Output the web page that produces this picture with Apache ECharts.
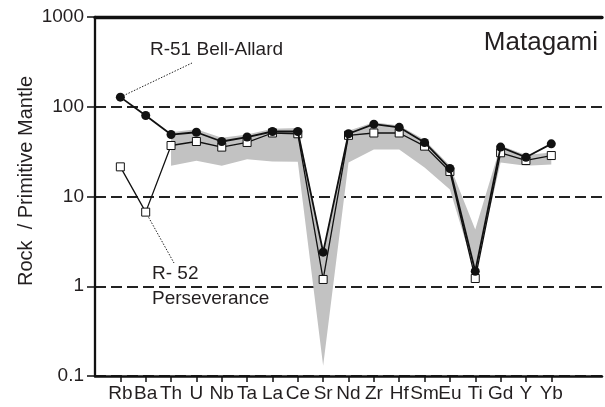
<!DOCTYPE html>
<html><head><meta charset="utf-8">
<script src="https://cdn.jsdelivr.net/npm/echarts@6/dist/echarts.min.js"></script>
<style>html,body{margin:0;padding:0;background:#fff}#c{width:605px;height:407px}</style>
</head><body><div id="c"></div>
<script>
const elements = ['Rb','Ba','Th','U','Nb','Ta','La','Ce','Sr','Nd','Zr','Hf','Sm','Eu','Ti','Gd','Y','Yb'];
const r51 = [128, 80, 49, 52, 41, 46, 53, 53, 2.4, 50, 64, 59, 40, 20.5, 1.47, 35.5, 27.4, 38.6];
const r52 = [21.4, 6.7, 37, 41, 35.5, 40, 51, 50, 1.19, 48, 51, 51, 36.4, 19, 1.22, 30.7, 25.2, 28.6];
const bandElements = ['Th','U','Nb','Ta','La','Ce','Sr','Nd','Zr','Hf','Sm','Eu','Ti','Gd','Y','Yb'];
const bandHigh = [52, 56, 45, 49, 57, 58, 2.5, 54, 67, 62, 43, 22, 4.3, 37, 29, 31];
const bandLow = [22, 25, 22, 26, 24.6, 24.4, 0.13, 24, 33.4, 33.4, 21, 12, 1.4, 24, 22, 22.8];
const yTicks = [0.1, 1, 10, 100, 1000];

const cats = [''].concat(elements).concat(['', '']);
const idx = e => cats.indexOf(e);
const FONT = 'Liberation Sans, Arial, sans-serif';
const TXT = '#231f20';

const chart = echarts.init(document.getElementById('c'));
const option = {
  animation: false,
  grid: {left: 95, right: 1, top: 17, bottom: 31, containLabel: false},
  xAxis: [{
    type: 'category', data: cats, boundaryGap: false, position: 'bottom',
    axisLine: {lineStyle: {color: '#111', width: 2.5}},
    axisTick: {length: 6, inside: false, lineStyle: {color: '#111', width: 1.5},
      interval: (i) => i >= 1 && i <= elements.length},
    axisLabel: {interval: 0, color: TXT, fontFamily: FONT, fontSize: 19, margin: 8},
    splitLine: {show: false}
  }, {
    type: 'category', data: cats, boundaryGap: false, position: 'top',
    axisLine: {lineStyle: {color: '#111', width: 3.3}},
    axisTick: {show: false}, axisLabel: {show: false}
  }],
  yAxis: {
    type: 'log', logBase: 10, min: yTicks[0], max: yTicks[yTicks.length - 1],
    axisLine: {show: true, lineStyle: {color: '#111', width: 2.3}},
    axisTick: {show: true, length: 8, lineStyle: {color: '#111', width: 1.5}},
    axisLabel: {color: TXT, fontFamily: FONT, fontSize: 19, margin: 11,
      formatter: v => String(v)},
    splitLine: {show: true, lineStyle: {color: '#222', width: 2, type: [11, 5]}}
  },
  series: [{
    type: 'custom', z: 1, silent: true,
    data: [[idx(bandElements[0]), bandHigh[0]]],
    renderItem: (params, api) => {
      const pts = [];
      for (let i = 0; i < bandElements.length; i++) pts.push(api.coord([idx(bandElements[i]), bandHigh[i]]));
      for (let i = bandElements.length - 1; i >= 0; i--) pts.push(api.coord([idx(bandElements[i]), bandLow[i]]));
      return {type: 'polygon', shape: {points: pts}, style: {fill: '#c2c2c2', stroke: null}};
    }
  }, {
    name: 'R-52 Perseverance', type: 'line', z: 3,
    data: r52.map((v, i) => [idx(elements[i]), v]),
    symbol: 'rect', symbolSize: 8,
    itemStyle: {color: '#fff', borderColor: '#111', borderWidth: 1},
    lineStyle: {color: '#111', width: 1.3}
  }, {
    name: 'R-51 Bell-Allard', type: 'line', z: 4,
    data: r51.map((v, i) => [idx(elements[i]), v]),
    symbol: 'circle', symbolSize: 9,
    itemStyle: {color: '#111', borderColor: '#111', borderWidth: 0},
    lineStyle: {color: '#111', width: 1.8}
  }]
};
chart.setOption(option);

const pRb = chart.convertToPixel({gridIndex: 0}, [idx('Rb'), r51[0]]);
const pBa = chart.convertToPixel({gridIndex: 0}, [idx('Ba'), r52[1]]);
chart.setOption({
  graphic: [
    {type: 'text', x: 598, y: 42.5, style: {text: 'Matagami', font: '26px ' + FONT, fill: TXT, align: 'right', verticalAlign: 'middle'}},
    {type: 'text', x: 150, y: 49.5, style: {text: 'R-51 Bell-Allard', font: '19px ' + FONT, fill: TXT, align: 'left', verticalAlign: 'middle'}},
    {type: 'text', x: 279, y: 149.5, style: {text: 'n=2', font: '19px ' + FONT, fill: TXT, align: 'center', verticalAlign: 'middle'}},
    {type: 'text', x: 152, y: 274, style: {text: 'R- 52', font: '19px ' + FONT, fill: TXT, align: 'left', verticalAlign: 'middle'}},
    {type: 'text', x: 152, y: 299, style: {text: 'Perseverance', font: '19px ' + FONT, fill: TXT, align: 'left', verticalAlign: 'middle'}},
    {type: 'text', x: 26, y: 181, rotation: Math.PI / 2, style: {text: 'Rock  / Primitive Mantle', font: '20px ' + FONT, fill: TXT, align: 'center', verticalAlign: 'middle'}},
    {type: 'line', z: 2, shape: {x1: pRb[0], y1: pRb[1], x2: 192, y2: 63}, style: {stroke: '#222', lineWidth: 1, lineDash: [1.5, 1.5]}},
    {type: 'line', z: 2, shape: {x1: pBa[0], y1: pBa[1], x2: 174, y2: 263}, style: {stroke: '#222', lineWidth: 1, lineDash: [1.5, 1.5]}}
  ]
});
</script></body></html>
